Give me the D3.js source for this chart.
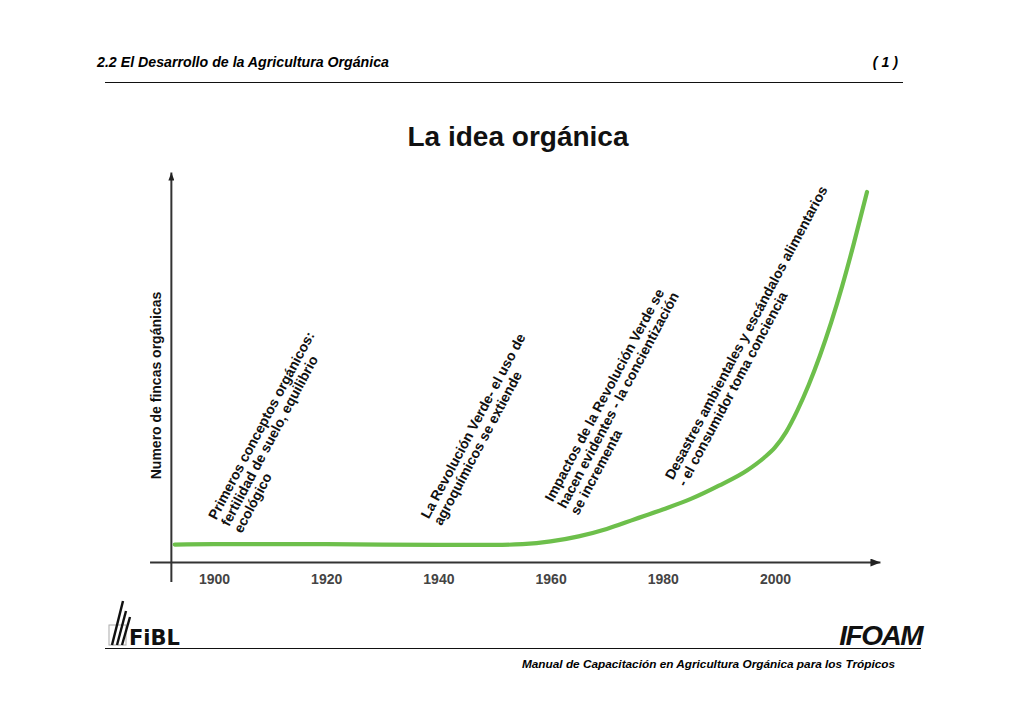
<!DOCTYPE html>
<html>
<head>
<meta charset="utf-8">
<script src="https://cdn.jsdelivr.net/npm/d3@7"></script>
<style>
  body { margin: 0; background: #fff; }
  svg { display: block; font-family: "Liberation Sans", Arial, sans-serif; }
</style>
</head>
<body>
<div id="chart"></div>
<script>
// data
const years = [1893, 1900, 1920, 1940, 1950, 1955, 1960, 1965, 1970, 1975, 1980, 1985, 1990, 1995, 1998, 2000, 2002, 2004, 2006, 2008, 2010, 2012, 2014, 2016.4];
const farms = [4.6, 4.7, 4.7, 4.5, 4.5, 4.7, 5.4, 6.7, 8.6, 11.1, 13.6, 16.3, 19.7, 23.6, 26.8, 29.5, 33.5, 39, 45.5, 53, 61.5, 71, 81.5, 95];
const tickYears = [1900, 1920, 1940, 1960, 1980, 2000];

const noteYears = [1900.4, 1938.3, 1960.4, 1981.8];
const noteLevels = [10.8, 11.0, 15.4, 21];
const noteTexts = [
  ['Primeros conceptos orgánicos:', 'fertilidad de suelo, equilibrio', 'ecológico'],
  ['La Revolución Verde- el uso de', 'agroquímicos se extiende'],
  ['Impactos de la Revolución Verde se', 'hacen evidentes - la concientización', 'se incrementa'],
  ['Desastres ambientales y escándalos alimentarios', '- el consumidor toma conciencia']
];

const title = 'La idea orgánica';
const yLabel = 'Numero de fincas orgánicas';
const header = '2.2 El Desarrollo de la Agricultura Orgánica';
const pageNo = '( 1 )';
const footer = 'Manual de Capacitación en Agricultura Orgánica para los Trópicos';

//Set up DOM scaffolding
const width = 1024;
const height = 724;
const svg = d3.select('#chart')
  .append('svg')
  .attr('width', width)
  .attr('height', height);

svg.append('rect').attr('width', width).attr('height', height).attr('fill', '#fff');

const defs = svg.append('defs');
defs.append('marker')
  .attr('id', 'arrow-x')
  .attr('viewBox', '0 0 10 8')
  .attr('refX', 10).attr('refY', 4)
  .attr('markerWidth', 10).attr('markerHeight', 8)
  .attr('markerUnits', 'userSpaceOnUse')
  .attr('orient', 'auto')
  .append('path').attr('d', 'M0,0L10,4L0,8Z').attr('fill', '#222');
defs.append('marker')
  .attr('id', 'arrow-y')
  .attr('viewBox', '0 0 8 6')
  .attr('refX', 8).attr('refY', 3)
  .attr('markerWidth', 8).attr('markerHeight', 6)
  .attr('markerUnits', 'userSpaceOnUse')
  .attr('orient', 'auto')
  .append('path').attr('d', 'M0,0L8,3L0,6Z').attr('fill', '#222');

//Page header and footer
const condensed = '"Liberation Sans Narrow", "Arial Narrow", "Liberation Sans", sans-serif';
svg.append('text')
  .attr('x', 97).attr('y', 67)
  .style('font-family', condensed)
  .style('font-style', 'italic').style('font-weight', 'bold')
  .style('font-size', '14.2px')
  .text(header);
svg.append('text')
  .attr('x', 898).attr('y', 67)
  .attr('text-anchor', 'end')
  .style('font-family', condensed)
  .style('font-style', 'italic').style('font-weight', 'bold')
  .style('font-size', '14.2px')
  .text(pageNo);
svg.append('line')
  .attr('x1', 105).attr('x2', 903).attr('y1', 82.5).attr('y2', 82.5)
  .attr('stroke', '#111').attr('stroke-width', 1);

svg.append('line')
  .attr('x1', 105).attr('x2', 921).attr('y1', 648.5).attr('y2', 648.5)
  .attr('stroke', '#111').attr('stroke-width', 1.2);
svg.append('text')
  .attr('x', 895).attr('y', 668)
  .attr('text-anchor', 'end')
  .style('font-family', condensed)
  .style('font-style', 'italic').style('font-weight', 'bold')
  .style('font-size', '11.8px')
  .text(footer);

// FiBL logo (rough)
const fibl = svg.append('g').attr('transform', 'translate(109,601)');
fibl.append('rect').attr('x', 0).attr('y', 24).attr('width', 17).attr('height', 20)
  .attr('fill', 'none').attr('stroke', '#aaa').attr('stroke-width', 1);
[[3, 44, 14, 0], [8, 44, 17, 10], [13, 44, 21, 16]].forEach(s => {
  fibl.append('line')
    .attr('x1', s[0]).attr('y1', s[1]).attr('x2', s[2]).attr('y2', s[3])
    .attr('stroke', '#111').attr('stroke-width', 2.4);
});
fibl.append('text')
  .attr('x', 20).attr('y', 44)
  .style('font-family', '"DejaVu Sans", sans-serif')
  .style('font-weight', 'bold').style('font-size', '21px')
  .attr('fill', '#111')
  .text('FiBL');

// IFOAM logo (rough)
svg.append('text')
  .attr('x', 922).attr('y', 645)
  .attr('text-anchor', 'end')
  .style('font-family', condensed)
  .style('font-style', 'italic').style('font-weight', 'bold')
  .style('font-size', '28px')
  .style('letter-spacing', '-1.5px')
  .attr('fill', '#111')
  .text('IFOAM');

//Title
svg.append('text')
  .attr('x', 518).attr('y', 146)
  .attr('text-anchor', 'middle')
  .style('font-weight', 'bold').style('font-size', '28px')
  .attr('fill', '#111')
  .text(title);

//Scales
const scaleX = d3.scaleLinear().domain([1900, 2000]).range([214, 775]);
const scaleY = d3.scaleLinear().domain([0, 100]).range([562.5, 172.5]);

const plot = svg.append('g').attr('class', 'plot');

//Axes with arrows
plot.append('line')
  .attr('x1', scaleX(1888.6)).attr('x2', scaleX(2018.8))
  .attr('y1', scaleY(0)).attr('y2', scaleY(0))
  .attr('stroke', '#333').attr('stroke-width', 2)
  .attr('marker-end', 'url(#arrow-x)');
plot.append('line')
  .attr('x1', scaleX(1892.4)).attr('x2', scaleX(1892.4))
  .attr('y1', scaleY(-5)).attr('y2', scaleY(100))
  .attr('stroke', '#333').attr('stroke-width', 2)
  .attr('marker-end', 'url(#arrow-y)');

const axisX = d3.axisBottom(scaleX)
  .tickValues(tickYears)
  .tickSize(0)
  .tickPadding(12)
  .tickFormat(d3.format('d'));
const axisXNode = plot.append('g')
  .attr('class', 'axis-x')
  .attr('transform', `translate(0,${scaleY(0)})`)
  .call(axisX);
axisXNode.select('.domain').remove();
axisXNode.selectAll('text')
  .style('font-family', '"Liberation Sans", Arial, sans-serif')
  .style('font-size', '14px')
  .style('font-weight', 'bold')
  .attr('fill', '#444');

//Y label
plot.append('text')
  .attr('transform', `translate(${scaleX(1892.4) - 10},${(scaleY(0) + scaleY(100)) / 2 + 18}) rotate(-90)`)
  .attr('text-anchor', 'middle')
  .style('font-weight', 'bold').style('font-size', '14px')
  .attr('fill', '#111')
  .text(yLabel);

//Curve
const series = years.map((y, i) => ({year: y, value: farms[i]}));
const line = d3.line()
  .x(d => scaleX(d.year))
  .y(d => scaleY(d.value))
  .curve(d3.curveMonotoneX);
plot.append('path')
  .datum(series)
  .attr('d', line)
  .attr('fill', 'none')
  .attr('stroke', '#6dbf4b')
  .attr('stroke-width', 4.2)
  .attr('stroke-linecap', 'round');

//Rotated notes
const notes = noteTexts.map((lines, i) => ({lines: lines, year: noteYears[i], level: noteLevels[i]}));
const noteNodes = plot.selectAll('.note')
  .data(notes)
  .enter()
  .append('text')
  .attr('class', 'note')
  .attr('transform', d => `translate(${scaleX(d.year)},${scaleY(d.level)}) rotate(-62)`)
  .style('font-weight', 'bold').style('font-size', '14px')
  .attr('fill', '#111');
noteNodes.selectAll('tspan')
  .data(d => d.lines)
  .enter()
  .append('tspan')
  .attr('x', 0)
  .attr('dy', (d, i) => i === 0 ? 0 : '1.03em')
  .text(d => d);
</script>
</body>
</html>
